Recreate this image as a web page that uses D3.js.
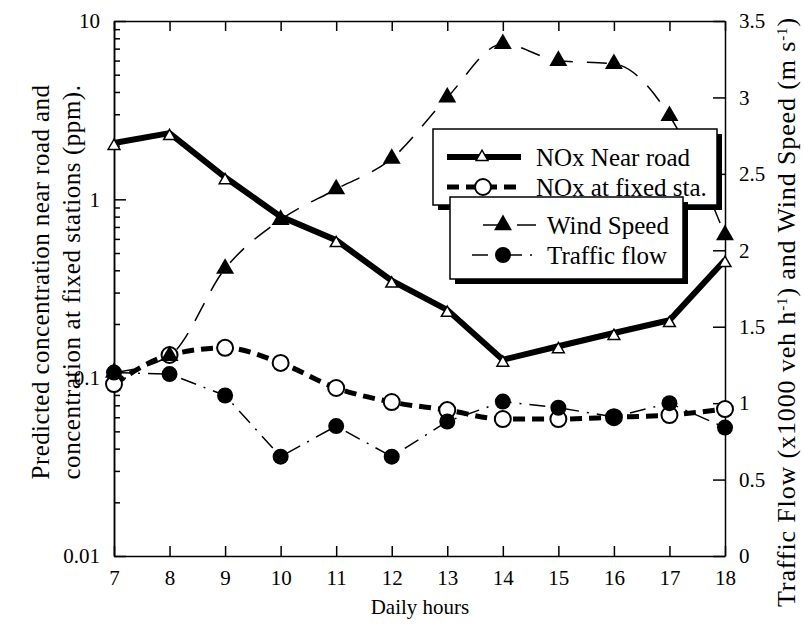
<!DOCTYPE html>
<html>
<head>
<meta charset="utf-8">
<script src="https://cdn.jsdelivr.net/npm/d3@7"></script>
<style>
body { margin: 0; background: #fff; }
svg text { font-family: "Liberation Serif", "Times New Roman", serif; fill: #000; }
</style>
</head>
<body>
<svg id="chart" width="804" height="624"></svg>
<script>
// Data
const hours = [7, 8, 9, 10, 11, 12, 13, 14, 15, 16, 17, 18];
const nearRoad = [2.07, 2.35, 1.33, 0.8, 0.59, 0.35, 0.24, 0.126, 0.15, 0.178, 0.21, 0.457];
const fixedSta = [0.092, 0.134, 0.147, 0.121, 0.0875, 0.073, 0.0658, 0.0586, 0.0586, 0.06, 0.0617, 0.0667];
const windSpeed = [1.2, 1.31, 1.88, 2.2, 2.4, 2.6, 3.0, 3.35, 3.24, 3.22, 2.88, 2.1];
const trafficFlow = [1.2, 1.19, 1.05, 0.65, 0.85, 0.65, 0.88, 1.01, 0.97, 0.91, 1.0, 0.84];

const leftTicks = [0.01, 0.1, 1, 10];
const leftMinor = [0.02,0.03,0.04,0.05,0.06,0.07,0.08,0.09, 0.2,0.3,0.4,0.5,0.6,0.7,0.8,0.9, 2,3,4,5,6,7,8,9];
const rightTicks = [0, 0.5, 1, 1.5, 2, 2.5, 3, 3.5];

// Configuration
const margin = { top: 21, right: 79, bottom: 68, left: 114 };
const width = 804 - margin.left - margin.right;
const height = 624 - margin.top - margin.bottom;
const serif = '"Liberation Serif", "Times New Roman", serif';

const svg = d3.select("#chart")
    .append("g")
    .attr("transform", `translate(${margin.left},${margin.top})`);

const x = d3.scaleLinear().domain([7, 18]).range([0, width]);
const yL = d3.scaleLog().domain([0.01, 10]).range([height, 0]);
const yR = d3.scaleLinear().domain([0, 3.5]).range([height, 0]);

// Axes (ticks point inward)
function styleAxis(g) {
    g.attr("font-family", serif);
    g.select(".domain").attr("stroke-width", 1.5);
    g.selectAll(".tick line").attr("stroke-width", 1.5);
    g.selectAll(".tick text").style("font-size", "21px");
}

svg.append("g")
    .attr("transform", `translate(0,${height})`)
    .call(d3.axisBottom(x).tickValues(hours).tickSize(-10).tickSizeOuter(0).tickPadding(14))
    .call(styleAxis);

svg.append("g")
    .call(d3.axisTop(x).tickValues(hours).tickSize(-10).tickSizeOuter(0).tickFormat(""))
    .call(styleAxis);

svg.append("g")
    .call(d3.axisLeft(yL).tickValues(leftTicks).tickSize(-12).tickSizeOuter(0).tickPadding(14)
        .tickFormat(d3.format("~g")))
    .call(styleAxis);

svg.append("g")
    .call(d3.axisLeft(yL).tickValues(leftMinor).tickSize(-6).tickSizeOuter(0).tickFormat(""))
    .call(styleAxis);

svg.append("g")
    .attr("transform", `translate(${width},0)`)
    .call(d3.axisRight(yR).tickValues(rightTicks).tickSize(-12).tickSizeOuter(0).tickPadding(14)
        .tickFormat(d3.format("~g")))
    .call(styleAxis);

// Series
const series = [
    { key: "NOx Near road", values: nearRoad, y: yL, width: 6, dash: null, curve: d3.curveLinear, marker: "openTri" },
    { key: "NOx at fixed sta.", values: fixedSta, y: yL, width: 5, dash: "12,7", curve: d3.curveMonotoneX, marker: "openCircle" },
    { key: "Wind Speed", values: windSpeed, y: yR, width: 1.5, dash: "20,14", curve: d3.curveMonotoneX, marker: "filledTri" },
    { key: "Traffic flow", values: trafficFlow, y: yR, width: 1.5, dash: "16,8,2,8", curve: d3.curveLinear, marker: "filledCircle" }
];

function drawMarker(sel, type) {
    if (type === "openTri") {
        sel.append("path").attr("d", d3.symbol(d3.symbolTriangle, 60))
            .attr("fill", "#fff").attr("stroke", "#000").attr("stroke-width", 1.5);
    } else if (type === "filledTri") {
        sel.append("path").attr("d", d3.symbol(d3.symbolTriangle, 140)).attr("fill", "#000");
    } else if (type === "openCircle") {
        sel.append("circle").attr("r", 8).attr("fill", "#fff").attr("stroke", "#000").attr("stroke-width", 2);
    } else {
        sel.append("circle").attr("r", 8).attr("fill", "#000");
    }
}

series.forEach(s => {
    const line = d3.line()
        .x((d, i) => x(hours[i]))
        .y(d => s.y(d))
        .curve(s.curve);
    svg.append("path")
        .datum(s.values)
        .attr("fill", "none")
        .attr("stroke", "#000")
        .attr("stroke-width", s.width)
        .attr("stroke-dasharray", s.dash)
        .attr("d", line);
});

series.forEach(s => {
    svg.selectAll(null)
        .data(s.values)
        .enter()
        .append("g")
        .attr("transform", (d, i) => `translate(${x(hours[i])},${s.y(d) + (s.marker === "openTri" ? 3 : 0)})`)
        .each(function() { drawMarker(d3.select(this), s.marker); });
});

// Legend boxes (with heavy shadow)
function legendBox(bx, by, bw, bh, items) {
    const g = svg.append("g").attr("transform", `translate(${bx - margin.left},${by - margin.top})`);
    g.append("rect").attr("x", 5).attr("y", 5).attr("width", bw).attr("height", bh).attr("fill", "#000");
    g.append("rect").attr("width", bw).attr("height", bh)
        .attr("fill", "#fff").attr("stroke", "#000").attr("stroke-width", 1.5);
    items.forEach(it => {
        const row = g.append("g").attr("transform", `translate(0,${it.y})`);
        row.append("line")
            .attr("x1", it.x0).attr("x2", it.x1)
            .attr("stroke", "#000")
            .attr("stroke-width", it.s.width)
            .attr("stroke-dasharray", it.s.dash);
        const m = row.append("g").attr("transform", `translate(${it.mx},0)`);
        drawMarker(m, it.s.marker);
        row.append("text")
            .attr("x", it.tx)
            .attr("dy", "0.35em")
            .attr("font-family", serif)
            .style("font-size", "25px")
            .text(it.s.key);
    });
}

legendBox(433, 129, 284, 76, [
    { s: series[0], y: 28, x0: 14, x1: 88, mx: 49, tx: 103 },
    { s: series[1], y: 58, x0: 14, x1: 88, mx: 50, tx: 103 }
]);
legendBox(450, 197, 233, 82, [
    { s: series[2], y: 28, x0: 33, x1: 86, mx: 53, tx: 97 },
    { s: series[3], y: 58, x0: 22, x1: 86, mx: 53, tx: 97 }
]);

// Axis titles
const root = d3.select("#chart");

root.append("text")
    .attr("x", 420).attr("y", 614)
    .attr("text-anchor", "middle")
    .style("font-size", "21px")
    .text("Daily hours");

// stretch a rotated title to the length it has in the figure
function fitLength(t, target) {
    const node = t.node();
    const len = node.getComputedTextLength();
    const n = node.textContent.length;
    t.attr("letter-spacing", ((target - len) / n).toFixed(2));
}

const leftTitle = ["Predicted concentration near road and", "concentration at fixed stations (ppm)."];
leftTitle.forEach((t, i) => {
    const lt = root.append("text")
        .attr("transform", `translate(${40 + i * 31},282) rotate(-90)`)
        .attr("text-anchor", "middle")
        .attr("dy", "0.35em")
        .style("font-size", "25px")
        .text(t);
    fitLength(lt, 395);
});

const rt = root.append("text")
    .attr("transform", "translate(786,312) rotate(-90)")
    .attr("text-anchor", "middle")
    .attr("dy", "0.35em")
    .style("font-size", "26px");
rt.append("tspan").text("Traffic Flow (x1000 veh h");
rt.append("tspan").attr("baseline-shift", "super").style("font-size", "15px").text("-1");
rt.append("tspan").text(") and Wind Speed (m s");
rt.append("tspan").attr("baseline-shift", "super").style("font-size", "15px").text("-1");
rt.append("tspan").text(")");
fitLength(rt, 590);
</script>
</body>
</html>
